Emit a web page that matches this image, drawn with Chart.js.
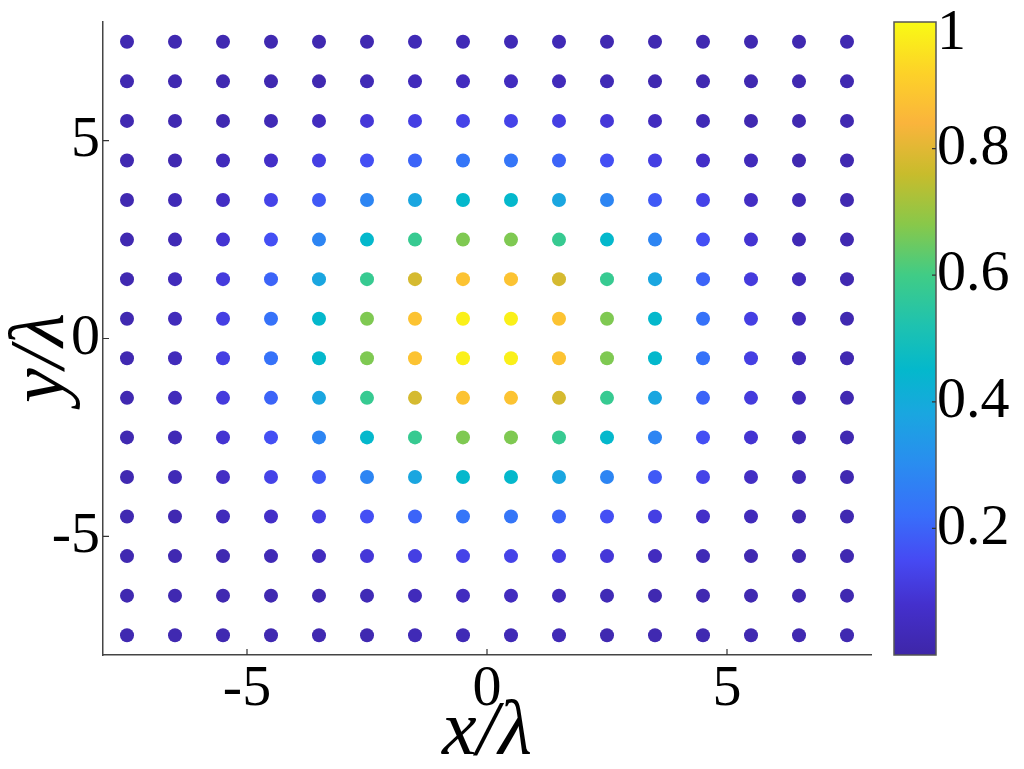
<!DOCTYPE html>
<html>
<head>
<meta charset="utf-8">
<script src="https://cdn.jsdelivr.net/npm/chart.js@4.4.1/dist/chart.umd.min.js"></script>
<style>
  body { margin: 0; background: #fff; }
  canvas { display: block; }
</style>
</head>
<body>
<canvas id="chart" width="1024" height="769"></canvas>
<script>
// grid positions (in units of lambda)
var xCoords = [-7.5, -6.5, -5.5, -4.5, -3.5, -2.5, -1.5, -0.5, 0.5, 1.5, 2.5, 3.5, 4.5, 5.5, 6.5, 7.5];
var yCoords = [7.5, 6.5, 5.5, 4.5, 3.5, 2.5, 1.5, 0.5, -0.5, -1.5, -2.5, -3.5, -4.5, -5.5, -6.5, -7.5];

// intensity per dot, one row per y (top to bottom)
var values = [
    [0.02, 0.02, 0.02, 0.02, 0.02, 0.02, 0.03, 0.03, 0.03, 0.03, 0.02, 0.02, 0.02, 0.02, 0.02, 0.02],
    [0.02, 0.02, 0.02, 0.02, 0.02, 0.03, 0.04, 0.05, 0.05, 0.04, 0.03, 0.02, 0.02, 0.02, 0.02, 0.02],
    [0.02, 0.02, 0.02, 0.03, 0.05, 0.10, 0.12, 0.13, 0.13, 0.12, 0.10, 0.05, 0.03, 0.02, 0.02, 0.02],
    [0.02, 0.02, 0.04, 0.07, 0.12, 0.16, 0.20, 0.24, 0.24, 0.20, 0.16, 0.12, 0.07, 0.04, 0.02, 0.02],
    [0.02, 0.03, 0.06, 0.13, 0.18, 0.28, 0.38, 0.45, 0.45, 0.38, 0.28, 0.18, 0.13, 0.06, 0.03, 0.02],
    [0.02, 0.03, 0.09, 0.16, 0.28, 0.45, 0.58, 0.67, 0.67, 0.58, 0.45, 0.28, 0.16, 0.09, 0.03, 0.02],
    [0.02, 0.04, 0.11, 0.20, 0.38, 0.58, 0.78, 0.88, 0.88, 0.78, 0.58, 0.38, 0.20, 0.11, 0.04, 0.02],
    [0.02, 0.04, 0.12, 0.23, 0.45, 0.67, 0.88, 0.98, 0.98, 0.88, 0.67, 0.45, 0.23, 0.12, 0.04, 0.02],
    [0.02, 0.04, 0.12, 0.23, 0.45, 0.67, 0.88, 0.98, 0.98, 0.88, 0.67, 0.45, 0.23, 0.12, 0.04, 0.02],
    [0.02, 0.04, 0.11, 0.20, 0.38, 0.58, 0.78, 0.88, 0.88, 0.78, 0.58, 0.38, 0.20, 0.11, 0.04, 0.02],
    [0.02, 0.03, 0.09, 0.16, 0.28, 0.45, 0.58, 0.67, 0.67, 0.58, 0.45, 0.28, 0.16, 0.09, 0.03, 0.02],
    [0.02, 0.03, 0.06, 0.13, 0.18, 0.28, 0.38, 0.45, 0.45, 0.38, 0.28, 0.18, 0.13, 0.06, 0.03, 0.02],
    [0.02, 0.02, 0.04, 0.07, 0.12, 0.16, 0.20, 0.24, 0.24, 0.20, 0.16, 0.12, 0.07, 0.04, 0.02, 0.02],
    [0.02, 0.02, 0.02, 0.03, 0.05, 0.10, 0.12, 0.13, 0.13, 0.12, 0.10, 0.05, 0.03, 0.02, 0.02, 0.02],
    [0.02, 0.02, 0.02, 0.02, 0.02, 0.03, 0.04, 0.05, 0.05, 0.04, 0.03, 0.02, 0.02, 0.02, 0.02, 0.02],
    [0.02, 0.02, 0.02, 0.02, 0.02, 0.02, 0.03, 0.03, 0.03, 0.03, 0.02, 0.02, 0.02, 0.02, 0.02, 0.02]
];

var xTicks = [-5, 0, 5];
var yTicks = [-5, 0, 5];
var cbTicks = [0.2, 0.4, 0.6, 0.8, 1];
var cbMin = 0;
var cbMax = 1;

// parula-like colour map, sampled from the colour bar
var cmapStops = [
    [0.00, [62, 38, 168]],
    [0.08, [68, 48, 205]],
    [0.15, [70, 74, 243]],
    [0.22, [56, 110, 250]],
    [0.30, [42, 140, 240]],
    [0.38, [26, 166, 224]],
    [0.45, [4, 184, 204]],
    [0.52, [30, 194, 176]],
    [0.60, [64, 204, 134]],
    [0.68, [136, 200, 74]],
    [0.76, [200, 188, 44]],
    [0.84, [250, 180, 60]],
    [0.92, [253, 210, 40]],
    [1.00, [249, 250, 20]]
];

function colorFor(v) {
    var t = (v - cbMin) / (cbMax - cbMin);
    t = Math.max(0, Math.min(1, t));
    for (var i = 1; i < cmapStops.length; i++) {
        if (t <= cmapStops[i][0]) {
            var a = cmapStops[i - 1], b = cmapStops[i];
            var f = (t - a[0]) / (b[0] - a[0]);
            var c = a[1].map(function(ch, k) { return Math.round(ch + (b[1][k] - ch) * f); });
            return 'rgb(' + c.join(',') + ')';
        }
    }
    var last = cmapStops[cmapStops.length - 1][1];
    return 'rgb(' + last.join(',') + ')';
}

var points = [];
yCoords.forEach(function(y, j) {
    xCoords.forEach(function(x, i) {
        points.push({ x: x, y: y, v: values[j][i] });
    });
});

var serif = "'Liberation Serif', 'Times New Roman', serif";

// axes should not push the plot area around for overhanging labels
function noPad(axis) {
    axis.paddingTop = 0;
    axis.paddingBottom = 0;
    axis.paddingLeft = 0;
    axis.paddingRight = 0;
}

// colour bar + inward tick marks
var colorbarPlugin = {
    id: 'colorbar',
    afterDraw: function(chart) {
        var c = chart.ctx;
        var area = chart.chartArea;
        var cb = chart.scales.cb;
        var x0 = cb.left + 23, x1 = cb.left + 65;
        var top = cb.getPixelForValue(cbMax), bottom = cb.getPixelForValue(cbMin);

        var grad = c.createLinearGradient(0, bottom, 0, top);
        cmapStops.forEach(function(s) {
            grad.addColorStop(s[0], 'rgb(' + s[1].join(',') + ')');
        });
        c.save();
        c.fillStyle = grad;
        c.fillRect(x0, top, x1 - x0, bottom - top);
        c.strokeStyle = '#555';
        c.lineWidth = 1.5;
        c.strokeRect(x0, top, x1 - x0, bottom - top);

        c.strokeStyle = '#333';
        c.lineWidth = 1.2;
        c.beginPath();
        cbTicks.forEach(function(v) {
            if (v >= cbMax) return;
            var py = cb.getPixelForValue(v);
            c.moveTo(x1, py); c.lineTo(x1 - 4, py);
        });
        xTicks.forEach(function(v) {
            var px = chart.scales.x.getPixelForValue(v);
            c.moveTo(px, area.bottom); c.lineTo(px, area.bottom - 6);
        });
        yTicks.forEach(function(v) {
            var py = chart.scales.y.getPixelForValue(v);
            c.moveTo(area.left, py); c.lineTo(area.left + 6, py);
        });
        c.stroke();
        c.restore();
    }
};

new Chart(document.getElementById('chart').getContext('2d'), {
    type: 'scatter',
    data: {
        datasets: [{
            data: points,
            pointRadius: 7,
            pointHoverRadius: 7,
            borderWidth: 0,
            backgroundColor: function(ctx) {
                return ctx.raw ? colorFor(ctx.raw.v) : '#000';
            }
        }]
    },
    options: {
        responsive: false,
        animation: false,
        events: [],
        layout: { padding: { top: 22, left: 0, right: 0, bottom: 0 } },
        plugins: {
            legend: { display: false },
            tooltip: { enabled: false }
        },
        scales: {
            x: {
                type: 'linear',
                position: 'bottom',
                min: -8,
                max: 8,
                afterBuildTicks: function(axis) {
                    axis.ticks = xTicks.map(function(v) { return { value: v }; });
                },
                afterFit: function(axis) { axis.height = 114; noPad(axis); },
                grid: { display: false, drawTicks: false },
                border: { color: '#444', width: 1.5 },
                ticks: {
                    color: '#000',
                    padding: 0,
                    maxRotation: 0,
                    autoSkip: false,
                    font: { family: serif, size: 58 },
                    callback: function(v) { return String(v); }
                },
                title: {
                    display: true,
                    text: 'x/λ',
                    color: '#000',
                    padding: { top: 0, bottom: 0 },
                    font: { family: serif, size: 78, style: 'italic', lineHeight: 0.9 }
                }
            },
            y: {
                type: 'linear',
                position: 'left',
                min: -8,
                max: 8,
                afterBuildTicks: function(axis) {
                    axis.ticks = yTicks.map(function(v) { return { value: v }; });
                },
                afterFit: function(axis) { axis.width = 103; noPad(axis); },
                grid: { display: false, drawTicks: false },
                border: { color: '#444', width: 1.5 },
                ticks: {
                    color: '#000',
                    padding: 3,
                    autoSkip: false,
                    font: { family: serif, size: 58 },
                    callback: function(v) { return String(v); }
                },
                title: {
                    display: true,
                    text: 'y/λ  ',
                    color: '#000',
                    padding: { top: 7, bottom: 0 },
                    font: { family: serif, size: 78, style: 'italic', lineHeight: 0.9 }
                }
            },
            cb: {
                type: 'linear',
                position: 'right',
                min: cbMin,
                max: cbMax,
                afterBuildTicks: function(axis) {
                    axis.ticks = cbTicks.map(function(v) { return { value: v }; });
                },
                afterFit: function(axis) { axis.width = 153; noPad(axis); },
                grid: { display: false, drawTicks: false },
                border: { display: false },
                ticks: {
                    color: '#000',
                    padding: 66,
                    autoSkip: false,
                    // the top label sits a little below the end of the bar
                    font: function(ctx) {
                        var top = ctx.tick && ctx.tick.value === cbMax;
                        return { family: serif, size: 58, lineHeight: top ? 0.4 : 1.2 };
                    },
                    callback: function(v) { return v === cbMax ? ['', String(v)] : String(v); }
                }
            }
        }
    },
    plugins: [colorbarPlugin]
});
</script>
</body>
</html>
